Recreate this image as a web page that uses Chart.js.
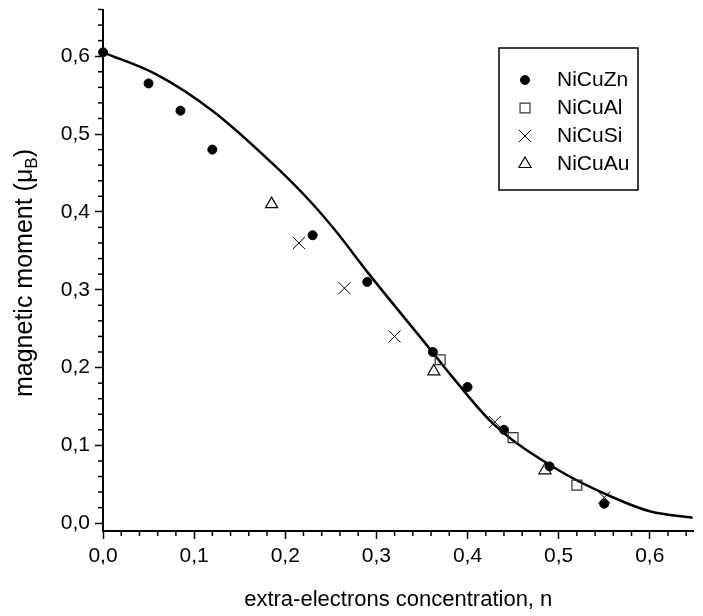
<!DOCTYPE html>
<html>
<head>
<meta charset="utf-8">
<script src="https://cdn.jsdelivr.net/npm/chart.js"></script>
<style>
  html, body { margin: 0; padding: 0; background: #fff; }
  #wrap { width: 703px; height: 616px; }
</style>
</head>
<body>
<div id="wrap"><canvas id="chart" width="703" height="616"></canvas></div>
<script>
// measured points, magnetic moment vs extra-electron concentration
const znN = [0, 0.05, 0.085, 0.12, 0.23, 0.29, 0.362, 0.40, 0.44, 0.49, 0.55];
const znM = [0.605, 0.565, 0.53, 0.48, 0.37, 0.31, 0.22, 0.175, 0.12, 0.073, 0.025];
const alN = [0.37, 0.45, 0.52];
const alM = [0.21, 0.11, 0.049];
const siN = [0.215, 0.265, 0.32, 0.43, 0.55];
const siM = [0.36, 0.302, 0.24, 0.13, 0.033];
const auN = [0.185, 0.363, 0.485];
const auM = [0.41, 0.195, 0.068];

// fitted curve
const fitN = [0, 0.058, 0.12, 0.187, 0.227, 0.255, 0.292, 0.36, 0.382, 0.428, 0.5, 0.558, 0.601, 0.647];
const fitM = [0.605, 0.577, 0.53, 0.461, 0.414, 0.376, 0.32, 0.222, 0.19, 0.128, 0.068, 0.034, 0.015, 0.007];

const xTicks = [0, 0.1, 0.2, 0.3, 0.4, 0.5, 0.6];
const yTicks = [0, 0.1, 0.2, 0.3, 0.4, 0.5, 0.6];

const FONT = '"Liberation Sans", Arial, sans-serif';
const fmt = v => v.toFixed(1).replace('.', ',');
const pts = (xs, ys) => xs.map((x, i) => ({ x: x, y: ys[i] }));

const extras = {
  id: 'extras',
  afterDraw(chart) {
    const { ctx, chartArea, scales } = chart;
    const x = scales.x, y = scales.y;
    ctx.save();
    ctx.strokeStyle = '#000';
    ctx.lineWidth = 1.5;

    // minor ticks every 0.02
    for (let i = 1; i * 0.02 <= x.max + 1e-9; i++) {
      if (i % 5 === 0) continue;
      const px = x.getPixelForValue(i * 0.02);
      ctx.beginPath();
      ctx.moveTo(px, chartArea.bottom);
      ctx.lineTo(px, chartArea.bottom + 5);
      ctx.stroke();
    }
    for (let i = 1; i * 0.02 <= y.max + 1e-9; i++) {
      if (i % 5 === 0) continue;
      const py = y.getPixelForValue(i * 0.02);
      ctx.beginPath();
      ctx.moveTo(chartArea.left, py);
      ctx.lineTo(chartArea.left - 5, py);
      ctx.stroke();
    }

    // y title with subscript B
    ctx.fillStyle = '#000';
    ctx.textBaseline = 'middle';
    ctx.textAlign = 'left';
    ctx.translate(25, 273);
    ctx.rotate(-Math.PI / 2);
    const t1 = 'magnetic moment (\u03bc', t2 = 'B', t3 = ')';
    ctx.font = '25px ' + FONT;
    const w1 = ctx.measureText(t1).width, w3 = ctx.measureText(t3).width;
    ctx.font = '17px ' + FONT;
    const w2 = ctx.measureText(t2).width;
    let x0 = -(w1 + w2 + w3) / 2;
    ctx.font = '25px ' + FONT;
    ctx.fillText(t1, x0, 0);
    ctx.font = '17px ' + FONT;
    ctx.fillText(t2, x0 + w1, 7);
    ctx.font = '25px ' + FONT;
    ctx.fillText(t3, x0 + w1 + w2, 0);
    ctx.restore();

    // legend box
    ctx.save();
    const items = chart.data.datasets.filter(d => d.label);
    ctx.strokeStyle = '#000';
    ctx.lineWidth = 1.5;
    ctx.strokeRect(499, 48, 139, 142);
    items.forEach((d, i) => {
      const cy = 80 + i * 28;
      ctx.fillStyle = d.pointBackgroundColor;
      ctx.strokeStyle = d.pointBorderColor;
      ctx.lineWidth = d.pointBorderWidth;
      Chart.helpers.drawPoint(ctx, {
        pointStyle: d.pointStyle, radius: d.pointRadius,
        rotation: 0, borderWidth: d.pointBorderWidth
      }, 525, cy);
      ctx.fillStyle = '#000';
      ctx.font = '21px ' + FONT;
      ctx.textBaseline = 'middle';
      ctx.textAlign = 'left';
      ctx.fillText(d.label, 557, cy);
    });
    ctx.restore();
  }
};

new Chart(document.getElementById('chart'), {
  type: 'scatter',
  data: {
    datasets: [
      {
        label: 'NiCuZn', data: pts(znN, znM), clip: false,
        pointStyle: 'circle', pointRadius: 4.5,
        pointBackgroundColor: '#000', pointBorderColor: '#000', pointBorderWidth: 1
      },
      {
        label: 'NiCuAl', data: pts(alN, alM), clip: false,
        pointStyle: 'rect', pointRadius: 7,
        pointBackgroundColor: 'rgba(0,0,0,0)', pointBorderColor: '#333', pointBorderWidth: 1.2
      },
      {
        label: 'NiCuSi', data: pts(siN, siM), clip: false,
        pointStyle: 'crossRot', pointRadius: 8.5,
        pointBackgroundColor: 'rgba(0,0,0,0)', pointBorderColor: '#000', pointBorderWidth: 1
      },
      {
        label: 'NiCuAu', data: pts(auN, auM), clip: false,
        pointStyle: 'triangle', pointRadius: 7,
        pointBackgroundColor: 'rgba(0,0,0,0)', pointBorderColor: '#000', pointBorderWidth: 1.2
      },
      {
        data: pts(fitN, fitM), showLine: true, pointRadius: 0,
        borderColor: '#000', borderWidth: 2.5, fill: false,
        cubicInterpolationMode: 'monotone'
      }
    ]
  },
  options: {
    responsive: false,
    animation: false,
    layout: { padding: { top: 8, right: 0, left: 0, bottom: 0 } },
    plugins: { legend: { display: false }, tooltip: { enabled: false } },
    scales: {
      x: {
        type: 'linear', min: 0, max: 0.648,
        afterBuildTicks: s => { s.ticks = xTicks.map(v => ({ value: v })); },
        afterFit: s => { s.height = 85; s.paddingLeft = 0; s.paddingRight = 0; },
        grid: { drawOnChartArea: false, drawTicks: true, tickLength: 8, tickWidth: 1.5, tickColor: '#000' },
        border: { display: true, color: '#000', width: 2 },
        ticks: { color: '#000', font: { family: FONT, size: 21 }, padding: 5, maxRotation: 0, autoSkip: false, callback: v => fmt(v) },
        title: { display: true, text: 'extra-electrons concentration, n', color: '#000', font: { family: FONT, size: 22 }, padding: { top: 0, bottom: 3 } }
      },
      y: {
        type: 'linear', min: -0.01, max: 0.66,
        afterBuildTicks: s => { s.ticks = yTicks.map(v => ({ value: v })); },
        afterFit: s => { s.width = 103; s.paddingTop = 0; s.paddingBottom = 0; },
        grid: { drawOnChartArea: false, drawTicks: true, tickLength: 8, tickWidth: 1.5, tickColor: '#000' },
        border: { display: true, color: '#000', width: 2 },
        ticks: { color: '#000', font: { family: FONT, size: 21 }, padding: 5, autoSkip: false, callback: v => fmt(v) }
      }
    }
  },
  plugins: [extras]
});
</script>
</body>
</html>
